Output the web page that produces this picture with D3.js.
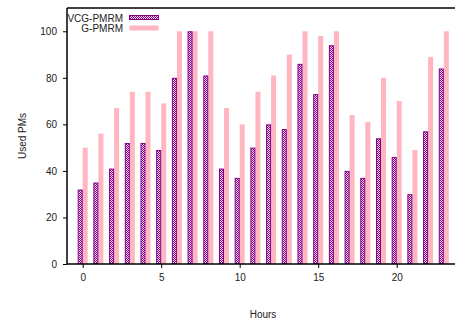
<!DOCTYPE html>
<html>
<head>
<meta charset="utf-8">
<script src="https://cdn.jsdelivr.net/npm/d3@7"></script>
<style>
  body { margin: 0; background: #fff; }
  svg text { font-family: "Liberation Sans", Arial, sans-serif; font-size: 10px; fill: #222; }
</style>
</head>
<body>
<svg id="chart" width="455" height="324"></svg>
<script>
const hours = d3.range(0, 24);
const vcgPmrm = [32, 35, 41, 52, 52, 49, 80, 100, 81, 41, 37, 50, 60, 58, 86, 73, 94, 40, 37, 54, 46, 30, 57, 84];
const gPmrm = [50, 56, 67, 74, 74, 69, 100, 100, 100, 67, 60, 74, 81, 90, 100, 98, 100, 64, 61, 80, 70, 49, 89, 100];
const xTicks = [0, 5, 10, 15, 20];
const yTicks = [0, 20, 40, 60, 80, 100];
const seriesNames = ["VCG-PMRM", "G-PMRM"];

const svg = d3.select("#chart");
const plotLeft = 67, plotRight = 459.5, plotTop = 8, plotBottom = 264;

const x = d3.scaleLinear().domain([-1, 24]).range([plotLeft, plotRight]);
const y = d3.scaleLinear().domain([0, 110]).range([plotBottom, plotTop]);
const bw = 0.32;

// checkered fill for the VCG bars
const defs = svg.append("defs");
const pat = defs.append("pattern")
    .attr("id", "checker")
    .attr("patternUnits", "userSpaceOnUse")
    .attr("width", 2).attr("height", 2);
pat.append("rect").attr("width", 2).attr("height", 2).attr("fill", "#8b008b");
pat.append("rect").attr("x", 1).attr("width", 1).attr("height", 1).attr("fill", "#f6d8f6");
pat.append("rect").attr("y", 1).attr("width", 1).attr("height", 1).attr("fill", "#f6d8f6");

// G-PMRM bars
svg.append("g").selectAll("rect")
    .data(hours)
    .join("rect")
    .attr("x", d => x(d))
    .attr("y", d => y(gPmrm[d]))
    .attr("width", x(bw) - x(0))
    .attr("height", d => y(0) - y(gPmrm[d]))
    .attr("fill", "#ffb6c1");

// VCG-PMRM bars
svg.append("g").selectAll("rect")
    .data(hours)
    .join("rect")
    .attr("x", d => x(d - bw) + 0.5)
    .attr("y", d => y(vcgPmrm[d]) + 0.5)
    .attr("width", x(bw) - x(0) - 1)
    .attr("height", d => y(0) - y(vcgPmrm[d]) - 1)
    .attr("fill", "url(#checker)")
    .attr("stroke", "#800080")
    .attr("stroke-width", 1);

// axes
const yAxis = svg.append("g")
    .attr("transform", `translate(${plotLeft},0)`)
    .call(d3.axisLeft(y).tickValues(yTicks).tickSize(4).tickPadding(6));
const xAxis = svg.append("g")
    .attr("transform", `translate(0,${plotBottom})`)
    .call(d3.axisBottom(x).tickValues(xTicks).tickSize(4).tickPadding(6));
[xAxis, yAxis].forEach(a => {
    a.select(".domain").remove();
    a.selectAll("line").attr("stroke", "#000");
    a.selectAll("text").style("font-family", "Liberation Sans, Arial, sans-serif").style("font-size", "10px").attr("fill", "#222");
});

// frame
svg.append("line").attr("x1", plotLeft).attr("x2", 455).attr("y1", plotTop).attr("y2", plotTop)
    .attr("stroke", "#000").attr("stroke-width", 1.5);
svg.append("line").attr("x1", plotLeft).attr("x2", 455).attr("y1", plotBottom).attr("y2", plotBottom)
    .attr("stroke", "#000").attr("stroke-width", 1.5);
svg.append("line").attr("x1", plotLeft).attr("x2", plotLeft).attr("y1", plotTop).attr("y2", plotBottom)
    .attr("stroke", "#000").attr("stroke-width", 1.5);

// axis titles
svg.append("text")
    .attr("x", (plotLeft + 459) / 2).attr("y", 318)
    .attr("text-anchor", "middle")
    .text("Hours");
svg.append("text")
    .attr("transform", `translate(26,${(plotTop + plotBottom) / 2}) rotate(-90)`)
    .attr("text-anchor", "middle")
    .text("Used PMs");

// legend
const legend = svg.append("g");
seriesNames.forEach((name, i) => {
    const ly = 18 + i * 10;
    legend.append("text")
        .attr("x", 123).attr("y", ly + 3.5)
        .attr("text-anchor", "end")
        .text(name);
    legend.append("rect")
        .attr("x", 129.5).attr("y", ly - 2.5)
        .attr("width", 29).attr("height", i === 0 ? 4 : 5)
        .attr("fill", i === 0 ? "url(#checker)" : "#ffb6c1")
        .attr("stroke", i === 0 ? "#800080" : "none");
});
</script>
</body>
</html>
